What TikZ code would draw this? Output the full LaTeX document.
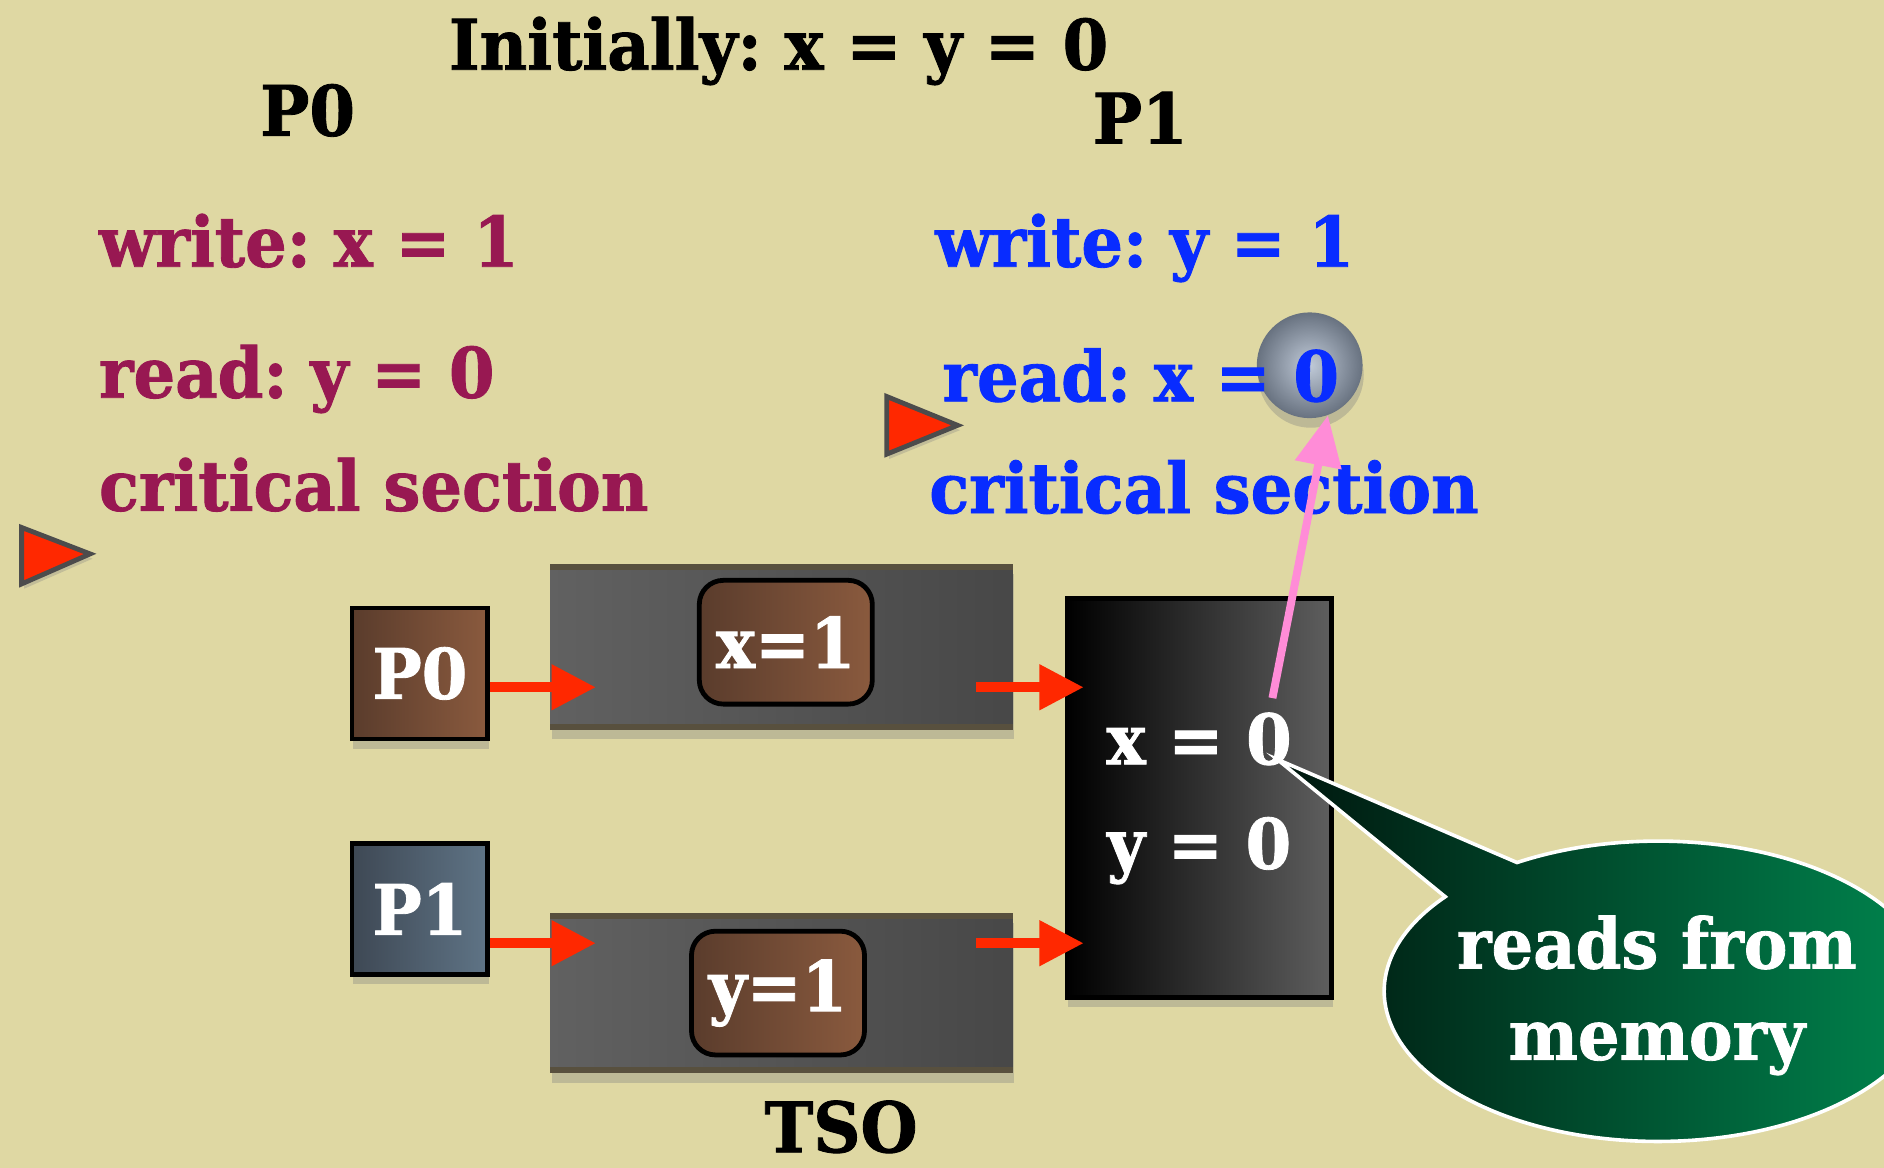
\documentclass[tikz,border=0pt]{standalone}
\usepackage{fontspec}
\setmainfont[FakeStretch=0.94,BoldFeatures={FakeBold=1.2}]{DejaVu Serif}
\usetikzlibrary{arrows.meta,shadows,calc}

\definecolor{slide}{RGB}{223,216,163}
\definecolor{pzero}{RGB}{152,24,82}
\definecolor{pone}{RGB}{8,44,255}
\definecolor{flowred}{RGB}{255,40,0}
\definecolor{brownL}{RGB}{90,60,44}
\definecolor{brownR}{RGB}{138,90,62}
\definecolor{slateL}{RGB}{62,72,84}
\definecolor{slateR}{RGB}{95,116,134}
\definecolor{band}{RGB}{88,80,62}
\definecolor{pinkarrow}{RGB}{255,140,215}
\definecolor{ballin}{RGB}{192,202,216}
\definecolor{ballout}{RGB}{104,114,128}
\definecolor{bubL}{RGB}{0,22,14}
\definecolor{bubR}{RGB}{0,140,82}

\begin{document}
\frenchspacing
\begin{tikzpicture}[x=0.5pt,y=-0.5pt,
  big/.style={font=\bfseries\fontsize{29}{34}\selectfont},
  heading/.style={big,text=black,anchor=base,inner sep=0pt},
  pzerotext/.style={big,text=pzero,anchor=base west,inner sep=0pt},
  ponetext/.style={big,text=pone,anchor=base west,inner sep=0pt},
  softshadow/.style={drop shadow={shadow xshift=0.5pt,shadow yshift=-4pt,opacity=.35}},
  procbox/.style={big,text=white,draw=black,line width=2pt,minimum width=56.5pt,minimum height=54.5pt,softshadow},
  fifo/.style={minimum width=192.5pt,minimum height=68.5pt,inner sep=0pt,left color=black!62,right color=black!72,softshadow},
  entry/.style={big,text=white,draw=black,line width=2pt,rounded corners=10pt,minimum width=72pt,minimum height=51.5pt,left color=brownL,right color=brownR},
  flow/.style={draw=flowred,line width=4.2pt,-{Triangle[length=18.5pt,width=18pt]}},
  play/.style={fill=flowred,draw=black!70,line width=2pt,line join=miter,
    drop shadow={shadow xshift=1pt,shadow yshift=-2pt,opacity=.3}},
  memtext/.style={big,text=white,inner sep=0pt},
]

% ---------------- BACKGROUND ----------------
\fill[slide] (0,0) rectangle (1568,972);

% ---------------- PROGRAMS ----------------
\node[heading] (init) at (648,58) {Initially: x = y = 0};
\node[heading] (plabel0) at (256,113) {P0};
\node[heading] (plabel1) at (949,119.5) {P1};

\node[pzerotext] (w0) at (82,222) {write: x = 1};
\node[pzerotext] (r0) at (82,331) {read: y = 0};
\node[pzerotext] (cs0) at (82,425) {critical section};

% ball behind the value read
\node[circle,minimum size=44pt,inner sep=0pt,inner color=ballin,outer color=ballout,softshadow] (ball) at (1090,304) {};

\node[ponetext] (w1) at (778,222) {write: y = 1};
\node[ponetext] (r1) at (784,334) {read: x = 0};
\node[ponetext] (cs1) at (773,427) {critical section};

% program counters
\draw[play] (18,439) -- (18,486) -- (75,461) -- cycle;
\draw[play] (738,330) -- (738,378) -- (797,354) -- cycle;

% ---------------- TSO MACHINE ----------------
\node[procbox,left color=brownL,right color=brownR] (p0box) at (349.5,560.5) {P0};
\node[procbox,left color=slateL,right color=slateR] (p1box) at (349.5,756.5) {P1};

% store buffers
\node[fifo] (buf0) at (650.5,538.5) {};
\node[fifo,minimum height=66.5pt] (buf1) at (650.5,826.5) {};
\fill[band] (buf0.north west) rectangle ($(buf0.north east)+(0,5)$);
\fill[band] ($(buf0.south west)+(0,-5)$) rectangle (buf0.south east);
\fill[band] (buf1.north west) rectangle ($(buf1.north east)+(0,5)$);
\fill[band] ($(buf1.south west)+(0,-5)$) rectangle (buf1.south east);

\node[entry] (wx) at (654,534.5) {x=1};
\node[entry] (wy) at (647.5,826.5) {y=1};

% memory
\node[draw=black,line width=2pt,minimum width=110pt,minimum height=166pt,left color=black,right color=black!63,softshadow] (mem) at (998,664) {};
\node[memtext] (memx) at (998,615) {x = 0};
\node[memtext] (memy) at (998,708) {y = 0};

\coordinate (in0) at (496,572);
\coordinate (in1) at (496,785);
\coordinate (out0) at (812,572);
\coordinate (out1) at (812,785);

\draw[flow] (p0box.east |- in0) -- (in0);
\draw[flow] (p1box.east |- in1) -- (in1);
\draw[flow] (out0) -- ($(mem.west |- out0)+(16,0)$);
\draw[flow] (out1) -- ($(mem.west |- out1)+(16,0)$);

\node[heading] (tso) at (700,959) {TSO};

% value comes from memory
\coordinate (rd) at (1059,581);
\draw[pinkarrow,line width=3.3pt,-{Triangle[length=21pt,width=19pt]}] (rd) -- (ball.-70);

% ---------------- SPEECH BUBBLE ----------------
\coordinate (bc) at (1380,825);
\coordinate (tip) at (1063,632);
\draw[white,line width=1.5pt,left color=bubL,right color=bubR]
  ($(bc)+(121:114pt and 62.5pt)$) -- (tip) -- ($(bc)+(141:114pt and 62.5pt)$)
  arc[start angle=141,end angle=481,x radius=114pt,y radius=62.5pt] -- cycle;
\node[memtext,anchor=base] (bub1) at (1379,806) {reads from};
\node[memtext,anchor=base] (bub2) at (1379,882) {memory};

\pgfresetboundingbox
\useasboundingbox (0,0) rectangle (1568,972);

\end{tikzpicture}
\end{document}
